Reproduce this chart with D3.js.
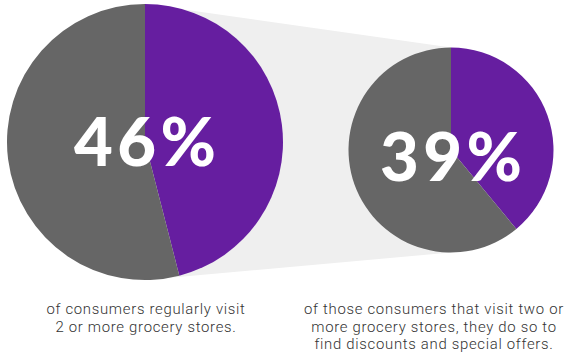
<!DOCTYPE html>
<html>
<head>
<meta charset="utf-8">
<script src="https://cdn.jsdelivr.net/npm/d3@7"></script>
<style>
  html, body { margin: 0; padding: 0; background: #fff; }
  svg { display: block; }
</style>
</head>
<body>
<svg id="chart" width="569" height="358"></svg>
<script>
// Share of consumers (percent) for each pie
const pieNames = ["visitMultiple", "forDiscounts"];
const pieValues = [46, 39];
const pieLabels = ["46%", "39%"];
const captions = [
  ["of consumers regularly visit", "2 or more grocery stores."],
  ["of those consumers that visit two or", "more grocery stores, they do so to", "find discounts and special offers."]
];

const W = 569, H = 358;
const svg = d3.select("#chart");

const purple = "#661ea0";
const grey = "#666666";
const band = "#efefef";

// circle layout: centre x, centre y, radius
const cx = d3.scaleOrdinal().domain(pieNames).range([145, 451]);
const cy = d3.scaleOrdinal().domain(pieNames).range([142, 150]);
const rad = d3.scaleOrdinal().domain(pieNames).range([138, 102.5]);
const captionX = d3.scaleOrdinal().domain(pieNames).range([146, 434]);

// connecting band from the large circle to the small one
const a = pieNames[0], b = pieNames[1];
svg.append("path")
  .attr("d", d3.line()([
    [cx(a), cy(a) - rad(a)],
    [cx(b), cy(b) - rad(b)],
    [cx(b), cy(b) + rad(b)],
    [cx(a), cy(a) + rad(a)]
  ]) + "Z")
  .attr("fill", band);

const pie = d3.pie().sort(null).value(d => d);

pieNames.forEach((name, i) => {
  const g = svg.append("g").attr("transform", `translate(${cx(name)},${cy(name)})`);
  const arc = d3.arc().innerRadius(0).outerRadius(rad(name));
  g.selectAll("path")
    .data(pie([pieValues[i], 100 - pieValues[i]]))
    .join("path")
    .attr("d", arc)
    .attr("fill", (d, j) => j === 0 ? purple : grey);

  g.append("text")
    .attr("text-anchor", "middle")
    .attr("y", i === 0 ? 24 : 31)
    .attr("textLength", 142)
    .attr("lengthAdjust", "spacing")
    .attr("fill", "#fff")
    .style("font-family", "Lato, 'Noto Sans', sans-serif")
    .style("font-weight", 900)
    .style("font-size", "67px")
    .text(pieLabels[i]);

  // caption lines under each circle
  svg.append("g")
    .selectAll("text")
    .data(captions[i])
    .join("text")
    .attr("text-anchor", "middle")
    .attr("x", captionX(name))
    .attr("y", (d, k) => 314 + k * 17.5)
    .attr("fill", "#333")
    .style("font-family", "Roboto, sans-serif")
    .style("font-weight", 300)
    .style("font-size", "14.9px")
    .style("letter-spacing", "0.7px")
    .text(d => d);
});
</script>
</body>
</html>
